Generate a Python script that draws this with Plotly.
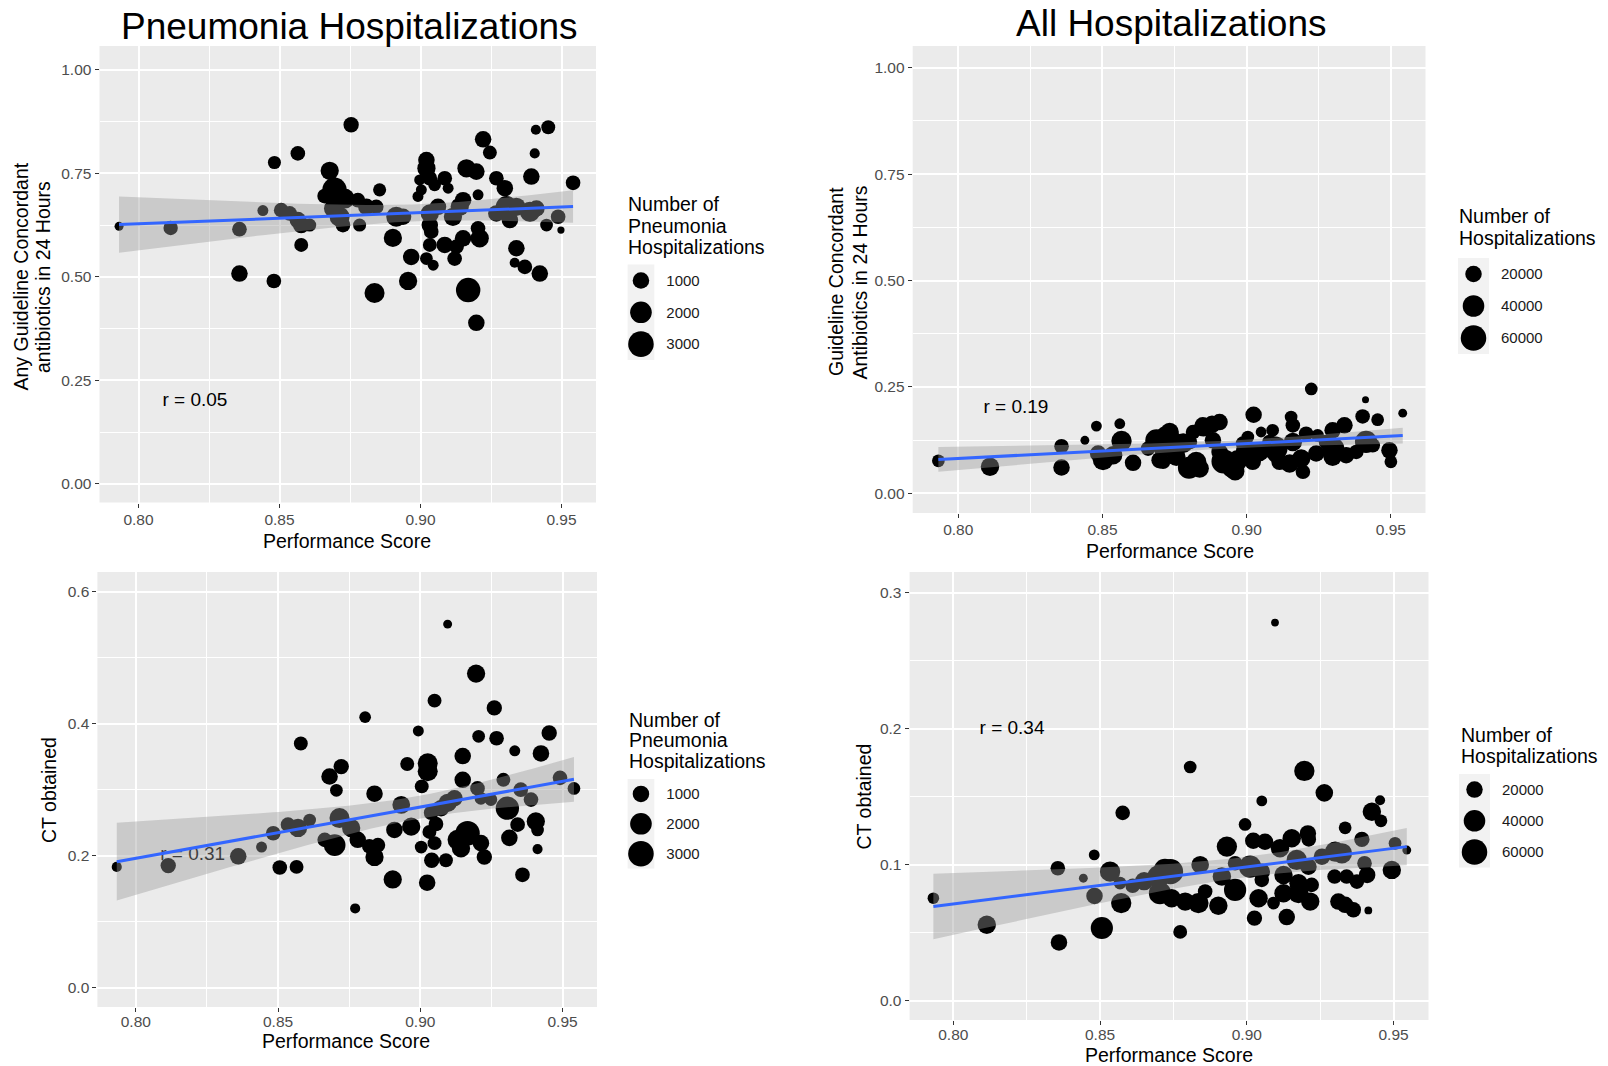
import numpy as np
import plotly.graph_objects as go

W, H = 1608, 1066
FONT = "Liberation Sans, Arial, Helvetica, sans-serif"

# ---------------- data ----------------
# Pneumonia hospitalizations: guideline concordant antibiotics in 24 h
pn_abx_score = [0.7931, 0.8114, 0.8358, 0.8358, 0.8480, 0.8441, 0.8482, 0.8565, 0.8506, 0.8536,
                0.8565, 0.8577, 0.8607, 0.8577, 0.8678, 0.8660, 0.8695, 0.8731, 0.8690, 0.8713,
                0.8725, 0.8754, 0.8778, 0.8784, 0.8808, 0.8843, 0.8855, 0.8837, 0.8902, 0.8914,
                0.8938, 0.8956, 0.8967, 0.9021, 0.9021, 0.9033, 0.8997, 0.9003, 0.8991, 0.9050,
                0.9086, 0.9098, 0.9062, 0.9033, 0.9033, 0.9038, 0.9021, 0.9045, 0.9033, 0.9086,
                0.9128, 0.9151, 0.9204, 0.9210, 0.9121, 0.9139, 0.9151, 0.9115, 0.9163, 0.9198,
                0.9204, 0.9169, 0.9198, 0.9222, 0.9246, 0.9269, 0.9299, 0.9305, 0.9269, 0.9317,
                0.9340, 0.9388, 0.9411, 0.9340, 0.9334, 0.9370, 0.9423, 0.9447, 0.9488, 0.9498,
                0.9393, 0.9405, 0.9409, 0.9453, 0.9541]
pn_abx_rate = [0.622, 0.618, 0.615, 0.508, 0.490, 0.660, 0.776, 0.798, 0.661, 0.653,
               0.637, 0.625, 0.625, 0.577, 0.756, 0.695, 0.710, 0.689, 0.665, 0.645,
               0.625, 0.867, 0.685, 0.625, 0.669, 0.669, 0.710, 0.461, 0.594, 0.645,
               0.645, 0.490, 0.548, 0.782, 0.762, 0.738, 0.734, 0.710, 0.694, 0.722,
               0.738, 0.714, 0.669, 0.653, 0.625, 0.609, 0.544, 0.528, 0.577, 0.577,
               0.573, 0.593, 0.617, 0.593, 0.544, 0.669, 0.685, 0.645, 0.762, 0.754,
               0.698, 0.468, 0.389, 0.832, 0.800, 0.738, 0.714, 0.669, 0.653, 0.637,
               0.669, 0.657, 0.665, 0.569, 0.534, 0.524, 0.508, 0.625, 0.645, 0.613,
               0.742, 0.798, 0.855, 0.861, 0.727]
pn_abx_count = [150, 680, 720, 1000, 720, 300, 520, 720, 720, 720,
                1000, 1000, 520, 620, 1300, 720, 2700, 1650, 1300, 1650,
                720, 820, 720, 520, 1000, 720, 520, 1650, 1300, 1650,
                1000, 1300, 1000, 1000, 1300, 720, 300, 300, 300, 480,
                720, 300, 1000, 1300, 1000, 720, 480, 300, 620, 1000,
                720, 1000, 720, 1300, 720, 1300, 1000, 1300, 1300, 1000,
                300, 2700, 1000, 1000, 620, 720, 1000, 2000, 1000, 1000,
                1300, 1650, 1000, 1000, 230, 720, 1000, 480, 720, 60,
                1000, 230, 230, 620, 720]

# Pneumonia hospitalizations: CT obtained
pn_ct_score = [0.7933, 0.8114, 0.8360, 0.8442, 0.8483, 0.8506, 0.8565, 0.8535, 0.8570, 0.8611,
               0.8580, 0.8681, 0.8722, 0.8705, 0.8716, 0.8699, 0.8664, 0.9096, 0.9196, 0.9050,
               0.9260, 0.8806, 0.8993, 0.9205, 0.9268, 0.9453, 0.9332, 0.9424, 0.9149, 0.8954,
               0.9026, 0.9026, 0.9005, 0.9149, 0.9201, 0.9292, 0.9491, 0.9540, 0.8839, 0.8933,
               0.9353, 0.9389, 0.9306, 0.9096, 0.9120, 0.9073, 0.9248, 0.9213, 0.9038, 0.8757,
               0.8909, 0.8968, 0.9055, 0.9032, 0.9166, 0.9131, 0.9143, 0.9213, 0.9225, 0.9342,
               0.9313, 0.9406, 0.9412, 0.9412, 0.9359, 0.8780, 0.8821, 0.8851, 0.8839, 0.9003,
               0.9050, 0.9040, 0.9090, 0.8903, 0.9024, 0.8771]
pn_ct_rate = [0.183, 0.185, 0.199, 0.213, 0.234, 0.182, 0.183, 0.247, 0.242, 0.254,
              0.370, 0.320, 0.335, 0.299, 0.257, 0.216, 0.224, 0.551, 0.476, 0.435,
              0.424, 0.410, 0.389, 0.381, 0.378, 0.386, 0.359, 0.355, 0.351, 0.339,
              0.340, 0.328, 0.305, 0.315, 0.302, 0.315, 0.318, 0.302, 0.294, 0.277,
              0.300, 0.285, 0.272, 0.280, 0.287, 0.272, 0.285, 0.287, 0.265, 0.242,
              0.239, 0.244, 0.248, 0.236, 0.234, 0.224, 0.211, 0.219, 0.198, 0.247,
              0.227, 0.252, 0.239, 0.210, 0.171, 0.224, 0.214, 0.216, 0.198, 0.213,
              0.219, 0.193, 0.193, 0.164, 0.159, 0.120]
pn_ct_count = [230, 820, 1000, 300, 720, 720, 620, 720, 1300, 480,
               620, 1000, 820, 480, 1650, 2000, 720, 150, 1300, 620,
               820, 370, 300, 480, 720, 820, 300, 1000, 1000, 620,
               1650, 1650, 620, 1000, 720, 620, 720, 480, 1000, 1200,
               720, 720, 2400, 1300, 1000, 1000, 480, 480, 720, 1300,
               1000, 1300, 720, 620, 2700, 1650, 1300, 1000, 820, 720,
               1000, 1300, 480, 230, 720, 1000, 720, 720, 1300, 480,
               620, 820, 620, 1300, 1000, 230]

# All hospitalizations: guideline concordant antibiotics in 24 h
all_abx_score = [0.7931, 0.8110, 0.8358, 0.8358, 0.8439, 0.8479, 0.8560, 0.8566, 0.8485, 0.8502,
                 0.8537, 0.8606, 0.8687, 0.8658, 0.8710, 0.9224, 0.9412, 0.9541, 0.9402, 0.9454,
                 0.9024, 0.9154, 0.9160, 0.8906, 0.8848, 0.8814, 0.8733, 0.8722, 0.8883, 0.9004,
                 0.9050, 0.9090, 0.9206, 0.9246, 0.9298, 0.9339, 0.9275, 0.9414, 0.9495, 0.9500,
                 0.8698, 0.8756, 0.8825, 0.8837, 0.8906, 0.8947, 0.8969, 0.9021, 0.9045, 0.9102,
                 0.9114, 0.9149, 0.9195, 0.9189, 0.9241, 0.9298, 0.9345, 0.9380, 0.9437, 0.9160,
                 0.9079, 0.8987, 0.8803, 0.8768, 0.8710, 0.8740, 0.8780, 0.8850, 0.8880, 0.8920,
                 0.8960, 0.8800, 0.9100, 0.9000, 0.9300]
all_abx_rate = [0.0762, 0.0622, 0.1105, 0.0607, 0.1245, 0.1580, 0.1635, 0.1230, 0.0935, 0.0778,
                0.0895, 0.0716, 0.1245, 0.1050, 0.0740, 0.2453, 0.2196, 0.1883, 0.1806, 0.1729,
                0.1846, 0.1790, 0.1596, 0.1673, 0.1596, 0.1439, 0.1439, 0.1320, 0.1245, 0.1320,
                0.1440, 0.1480, 0.1400, 0.1360, 0.1480, 0.1596, 0.1206, 0.1206, 0.1010, 0.0739,
                0.0778, 0.0856, 0.0739, 0.0584, 0.0972, 0.0584, 0.0778, 0.0739, 0.0972, 0.0935,
                0.0739, 0.0700, 0.0505, 0.0818, 0.0935, 0.0856, 0.0895, 0.0972, 0.1128, 0.1206,
                0.1206, 0.1168, 0.1206, 0.1089, 0.1050, 0.1200, 0.1180, 0.1550, 0.1620, 0.0750,
                0.0520, 0.0600, 0.1050, 0.1000, 0.1050]
all_abx_count = [9600, 26700, 14300, 20000, 2900, 5800, 5800, 34300, 20000, 34300,
                 26700, 20000, 42900, 14300, 14300, 9600, 1050, 2900, 14300, 9600,
                 20000, 9600, 14300, 20000, 20000, 14300, 26700, 42900, 20000, 9600,
                 5800, 9600, 14300, 9600, 20000, 20000, 14300, 42900, 20000, 9600,
                 20000, 26700, 34300, 26700, 20000, 26700, 34300, 20000, 26700, 26700,
                 20000, 26700, 14300, 26700, 20000, 26700, 20000, 14300, 14300, 26700,
                 14300, 14300, 14300, 14300, 26700, 42900, 32500, 27300, 23400, 53300,
                 27300, 42900, 52000, 39000, 42900]

# All hospitalizations: CT obtained
all_ct_score = [0.7932, 0.8114, 0.8356, 0.8360, 0.8443, 0.8480, 0.8534, 0.8481, 0.8506, 0.8572,
                0.8568, 0.8611, 0.8577, 0.8699, 0.8704, 0.9096, 0.8807, 0.9196, 0.9264, 0.9051,
                0.9454, 0.9426, 0.9457, 0.8994, 0.9335, 0.9208, 0.9211, 0.8932, 0.9022, 0.9062,
                0.9153, 0.9113, 0.9392, 0.9505, 0.9545, 0.8721, 0.8841, 0.8960, 0.8915, 0.9011,
                0.9051, 0.9051, 0.9125, 0.9170, 0.9210, 0.9256, 0.9301, 0.9324, 0.9401, 0.9494,
                0.9299, 0.9340, 0.9375, 0.9410, 0.9176, 0.9221, 0.9125, 0.9176, 0.9216, 0.9091,
                0.9040, 0.8960, 0.8858, 0.8835, 0.8790, 0.8744, 0.8903, 0.9312, 0.9335, 0.9363,
                0.9414, 0.9026, 0.9136, 0.8773, 0.8740, 0.8650]
all_ct_rate = [0.0755, 0.0560, 0.0975, 0.0430, 0.0902, 0.1073, 0.0950, 0.0772, 0.0536, 0.0719,
               0.0866, 0.0846, 0.1382, 0.0914, 0.0792, 0.2780, 0.1719, 0.1690, 0.1529, 0.1470,
               0.1475, 0.1390, 0.1324, 0.1297, 0.1272, 0.1231, 0.1187, 0.1134, 0.1177, 0.1170,
               0.1195, 0.1122, 0.1187, 0.1158, 0.1109, 0.0963, 0.1000, 0.1012, 0.0914, 0.0987,
               0.0950, 0.0890, 0.0926, 0.1036, 0.0987, 0.1060, 0.1097, 0.1085, 0.1012, 0.0963,
               0.0914, 0.0914, 0.0877, 0.0926, 0.0865, 0.0853, 0.0792, 0.0792, 0.0730, 0.0719,
               0.0755, 0.0816, 0.0804, 0.0719, 0.0730, 0.0755, 0.0700, 0.0730, 0.0706, 0.0670,
               0.0665, 0.0609, 0.0616, 0.0507, 0.0950, 0.0880]
all_ct_count = [7200, 26700, 14300, 20000, 2900, 5800, 34300, 20000, 42900, 34300,
                9600, 14300, 14300, 42900, 42900, 1700, 9600, 34300, 23900, 5800,
                4500, 26700, 9600, 9600, 9600, 20000, 14300, 34300, 20000, 20000,
                26700, 26700, 16500, 9600, 2900, 42900, 23900, 14300, 26700, 42900,
                20000, 14300, 26700, 34300, 20000, 20000, 34300, 34300, 14300, 26700,
                14300, 14300, 14300, 20000, 26700, 14300, 26700, 34300, 26700, 9600,
                26700, 42900, 14300, 34300, 26700, 26700, 26700, 20000, 20000, 16500,
                1700, 16500, 20000, 12300, 58500, 26000]

r_labels = ["r = 0.05", "r = 0.19", "r = 0.31", "r = 0.34"]
titles = ["Pneumonia Hospitalizations", "All Hospitalizations"]
y_titles = [["Any Guideline Concordant", "antibiotics in 24 Hours"],
            ["Guideline Concordant", "Antibiotics in 24 Hours"],
            ["CT obtained"], ["CT obtained"]]
x_title = "Performance Score"
leg_pn_vals = [1000, 2000, 3000]
leg_all_vals = [20000, 40000, 60000]
leg_pn_title = ["Number of", "Pneumonia", "Hospitalizations"]
leg_all_title = ["Number of", "Hospitalizations"]


# ---------------- helpers ----------------
def size_pn(n):
    return 4.2 + 0.39 * np.sqrt(np.asarray(n, dtype=float))


def size_all(n):
    return 4.2 + 0.087 * np.sqrt(np.asarray(n, dtype=float))


def lm_band(x, y, m=80):
    x = np.asarray(x, float)
    y = np.asarray(y, float)
    n = len(x)
    b, a = np.polyfit(x, y, 1)
    xs = np.linspace(x.min(), x.max(), m)
    yh = a + b * xs
    res = y - (a + b * x)
    s = np.sqrt((res ** 2).sum() / (n - 2))
    sxx = ((x - x.mean()) ** 2).sum()
    se = s * np.sqrt(1.0 / n + (xs - x.mean()) ** 2 / sxx)
    t = 1.99
    return xs, yh, yh - t * se, yh + t * se


def pxx(v):
    return v / W


def pxy(v):
    return 1 - v / H


panels = [
    dict(xs=pn_abx_score, ys=pn_abx_rate, ns=pn_abx_count, sz=size_pn,
         dx=(99.5, 596), dy=(46, 502.5), xr=(0.78617, 0.96223), yr=(-0.0447, 1.0572),
         ydt=0.25, yfmt=".2f", xstand=-1),
    dict(xs=all_abx_score, ys=all_abx_rate, ns=all_abx_count, sz=size_all,
         dx=(912.7, 1425.5), dy=(46, 513), xr=(0.7842, 0.9620), yr=(-0.0463, 1.051),
         ydt=0.25, yfmt=".2f", xstand=-2),
    dict(xs=pn_ct_score, ys=pn_ct_rate, ns=pn_ct_count, sz=size_pn,
         dx=(97.4, 597), dy=(572, 1007), xr=(0.7865, 0.9621), yr=(-0.0294, 0.630),
         ydt=0.2, yfmt=".1f", xstand=-4),
    dict(xs=all_ct_score, ys=all_ct_rate, ns=all_ct_count, sz=size_all,
         dx=(909.6, 1428.5), dy=(572, 1020), xr=(0.7851, 0.9619), yr=(-0.014, 0.3152),
         ydt=0.1, yfmt=".1f", xstand=-4),
]

fig = go.Figure()
layout = dict(width=W, height=H, margin=dict(l=0, r=0, t=0, b=0),
              paper_bgcolor="white", plot_bgcolor="rgba(0,0,0,0)",
              showlegend=False, font=dict(family=FONT))
shapes = []
annotations = []

for i, p in enumerate(panels):
    k = "" if i == 0 else str(i + 1)
    xa, ya = "x" + k, "y" + k
    # points
    fig.add_trace(go.Scatter(x=p["xs"], y=p["ys"], mode="markers", xaxis=xa, yaxis=ya,
                             marker=dict(color="#000000", size=p["sz"](p["ns"]), line=dict(width=0),
                                         opacity=1), hoverinfo="skip"))
    # r label
    fig.add_trace(go.Scatter(x=[0.82], y=[0.2], mode="text", text=[r_labels[i]], xaxis=xa, yaxis=ya,
                             textfont=dict(size=19, color="black", family=FONT), hoverinfo="skip"))
    # smooth band + line
    bx, by, lo, hi = lm_band(p["xs"], p["ys"])
    fig.add_trace(go.Scatter(x=np.concatenate([bx, bx[::-1]]), y=np.concatenate([hi, lo[::-1]]),
                             mode="lines", fill="toself", fillcolor="rgba(153,153,153,0.4)",
                             line=dict(width=0), xaxis=xa, yaxis=ya, hoverinfo="skip"))
    fig.add_trace(go.Scatter(x=bx, y=by, mode="lines", line=dict(color="#3366FF", width=3),
                             xaxis=xa, yaxis=ya, hoverinfo="skip"))
    common = dict(ticks="outside", ticklen=4, tickwidth=1, tickcolor="#333333",
                  showgrid=True, gridcolor="white", gridwidth=1.8, zeroline=False, showline=False,
                  tickfont=dict(size=15.5, color="#4D4D4D", family=FONT), fixedrange=True)
    layout["xaxis" + k] = dict(domain=[pxx(p["dx"][0]), pxx(p["dx"][1])], range=list(p["xr"]),
                               anchor=ya, tick0=0.8, dtick=0.05, tickformat=".2f",
                               ticklabelstandoff=p["xstand"],
                               minor=dict(tick0=0.8, dtick=0.025, showgrid=True, gridcolor="white",
                                          gridwidth=0.9, ticks=""), **common)
    layout["yaxis" + k] = dict(domain=[pxy(p["dy"][1]), pxy(p["dy"][0])], range=list(p["yr"]),
                               anchor=xa, tick0=0, dtick=p["ydt"], tickformat=p["yfmt"],
                               minor=dict(tick0=0, dtick=p["ydt"] / 2, showgrid=True, gridcolor="white",
                                          gridwidth=0.9, ticks=""), **common)
    shapes.append(dict(type="rect", xref=xa + " domain", yref=ya + " domain", x0=0, x1=1, y0=0, y1=1,
                       fillcolor="#EBEBEB", line=dict(width=0), layer="below"))


def ann(text, x, y, size, color="black", xanchor="center", yanchor="middle", angle=0):
    annotations.append(dict(text=text, x=pxx(x), y=pxy(y), xref="paper", yref="paper",
                            showarrow=False, xanchor=xanchor, yanchor=yanchor, textangle=angle,
                            font=dict(size=size, color=color, family=FONT)))


# titles
ann(titles[0], 349, 26, 37)
ann(titles[1], 1171, 24, 37)
# x axis titles
ann(x_title, 346.6, 540.5, 19.5)
ann(x_title, 1170, 550.7, 19.5)
ann(x_title, 345.6, 1041, 19.5)
ann(x_title, 1169, 1055, 19.5)
# y axis titles
ann(y_titles[0][0], 20.5, 277, 19.5, angle=-90)
ann(y_titles[0][1], 43, 277, 19.5, angle=-90)
ann(y_titles[1][0], 836, 282, 19.5, angle=-90)
ann(y_titles[1][1], 859.5, 282, 19.5, angle=-90)
ann(y_titles[2][0], 49, 790, 19.5, angle=-90)
ann(y_titles[3][0], 863.5, 797, 19.5, angle=-90)

# size legends
legends = [
    dict(vals=leg_pn_vals, sz=size_pn, title=leg_pn_title, tx=625.6, ty=[204, 225.6, 247],
         bx=(627.6, 654.3), by=(264.6, 360)),
    dict(vals=leg_all_vals, sz=size_all, title=leg_all_title, tx=1457.3, ty=[216.4, 238],
         bx=(1458, 1489), by=(258, 354)),
    dict(vals=leg_pn_vals, sz=size_pn, title=leg_pn_title, tx=626.6, ty=[720, 740.4, 761],
         bx=(627.6, 654.3), by=(779, 868.6)),
    dict(vals=leg_all_vals, sz=size_all, title=leg_all_title, tx=1459, ty=[735.3, 755.8],
         bx=(1459, 1490), by=(774, 867.6)),
]
for j, L in enumerate(legends):
    k = str(j + 5)
    xa, ya = "x" + k, "y" + k
    labs = [str(v) for v in L["vals"]]
    # key background (paper-referenced, below everything)
    shapes.append(dict(type="rect", xref="paper", yref="paper",
                       x0=pxx(L["bx"][0]), x1=pxx(L["bx"][1]), y0=pxy(L["by"][1]), y1=pxy(L["by"][0]),
                       fillcolor="#F2F2F2", line=dict(width=0), layer="below"))
    fig.add_trace(go.Scatter(x=[0.5] * len(labs), y=labs, mode="markers", xaxis=xa, yaxis=ya,
                             marker=dict(color="#000000", size=L["sz"](L["vals"]), line=dict(width=0),
                                         opacity=1),
                             opacity=1, hoverinfo="skip", cliponaxis=False))
    layout["xaxis" + k] = dict(domain=[pxx(L["bx"][0]), pxx(L["bx"][1])], range=[0, 1], anchor=ya,
                               visible=False, fixedrange=True)
    layout["yaxis" + k] = dict(domain=[pxy(L["by"][1]), pxy(L["by"][0])], anchor=xa, type="category",
                               categoryorder="array", categoryarray=labs[::-1], range=[-0.5, len(labs) - 0.5],
                               side="right", showgrid=False, zeroline=False, showline=False,
                               ticks="outside", ticklen=8, tickcolor="rgba(0,0,0,0)",
                               tickfont=dict(size=15, color="#1A1A1A", family=FONT), fixedrange=True)
    for line_text, yy in zip(L["title"], L["ty"]):
        ann(line_text, L["tx"], yy, 19.5, xanchor="left")

layout["shapes"] = shapes
layout["annotations"] = annotations
fig.update_layout(**layout)
fig.write_html("out.html", config={"displayModeBar": False},
               post_script="document.body.style.margin='0px';document.body.style.padding='0px';")
